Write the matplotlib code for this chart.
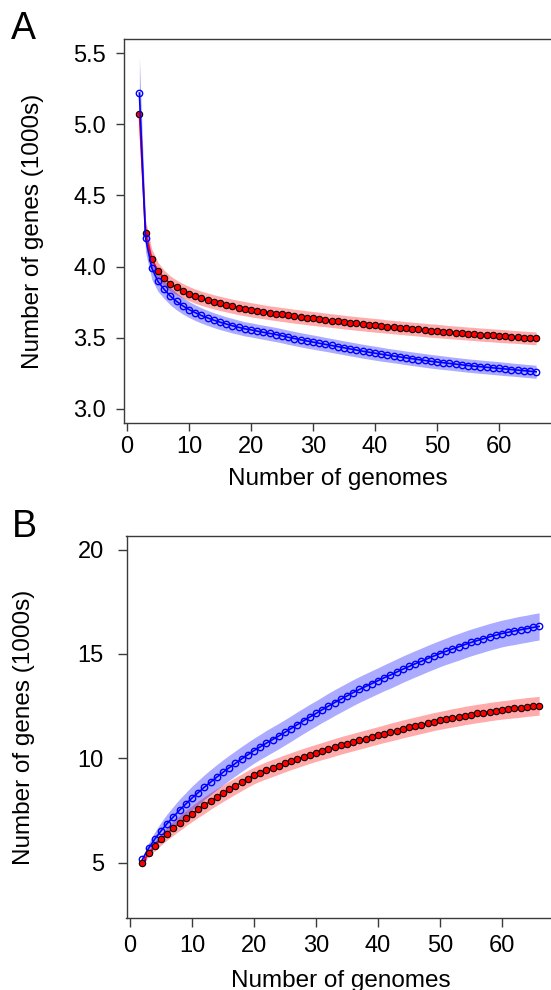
import numpy as np
import matplotlib
matplotlib.use("Agg")
import matplotlib.pyplot as plt

plt.rcParams['font.family'] = ['Liberation Sans', 'DejaVu Sans']

# ---------------- data ----------------
n_genomes = list(range(2, 67))

# Panel A (core genome, thousands of genes)
coreA_red = [5.075, 4.237, 4.052, 3.970, 3.918, 3.880, 3.853, 3.830, 3.810, 3.792,
             3.777, 3.764, 3.752, 3.741, 3.731, 3.721, 3.712, 3.704, 3.696, 3.689,
             3.682, 3.675, 3.669, 3.663, 3.657, 3.651, 3.646, 3.640, 3.635, 3.630,
             3.625, 3.620, 3.615, 3.610, 3.605, 3.600, 3.596, 3.591, 3.587, 3.583,
             3.578, 3.574, 3.570, 3.566, 3.562, 3.558, 3.554, 3.550, 3.547, 3.543,
             3.539, 3.536, 3.532, 3.529, 3.526, 3.522, 3.519, 3.516, 3.513, 3.510,
             3.507, 3.504, 3.501, 3.498, 3.495]
coreA_blue = [5.220, 4.200, 3.990, 3.895, 3.840, 3.792, 3.755, 3.724, 3.698, 3.676,
              3.656, 3.639, 3.623, 3.609, 3.596, 3.584, 3.573, 3.562, 3.555, 3.546,
              3.538, 3.530, 3.522, 3.513, 3.503, 3.494, 3.485, 3.477, 3.469, 3.461,
              3.453, 3.445, 3.437, 3.429, 3.421, 3.413, 3.405, 3.398, 3.391, 3.384,
              3.377, 3.371, 3.365, 3.358, 3.352, 3.346, 3.340, 3.334, 3.329, 3.324,
              3.319, 3.314, 3.309, 3.304, 3.300, 3.296, 3.292, 3.288, 3.284, 3.280,
              3.276, 3.272, 3.268, 3.264, 3.260]
coreA_red_hw = [0.18, 0.09, 0.07, 0.06, 0.056, 0.054, 0.052, 0.051, 0.050, 0.050,
                0.050, 0.050, 0.050, 0.050, 0.050, 0.050, 0.050, 0.050, 0.050, 0.050,
                0.049, 0.049, 0.049, 0.049, 0.049, 0.049, 0.049, 0.049, 0.049, 0.049,
                0.048, 0.048, 0.048, 0.048, 0.048, 0.048, 0.048, 0.048, 0.048, 0.048,
                0.047, 0.047, 0.047, 0.047, 0.047, 0.047, 0.047, 0.047, 0.047, 0.047,
                0.046, 0.046, 0.046, 0.046, 0.046, 0.046, 0.046, 0.046, 0.046, 0.046,
                0.045, 0.045, 0.045, 0.045, 0.045]
coreA_blue_hw = [0.25, 0.10, 0.08, 0.07, 0.065, 0.062, 0.060, 0.058, 0.056, 0.055,
                 0.054, 0.053, 0.052, 0.052, 0.051, 0.051, 0.050, 0.050, 0.050, 0.050,
                 0.050, 0.050, 0.050, 0.050, 0.050, 0.050, 0.050, 0.050, 0.050, 0.050,
                 0.049, 0.049, 0.049, 0.049, 0.049, 0.049, 0.049, 0.049, 0.049, 0.049,
                 0.048, 0.048, 0.048, 0.048, 0.048, 0.048, 0.048, 0.048, 0.048, 0.048,
                 0.047, 0.047, 0.047, 0.047, 0.047, 0.047, 0.047, 0.047, 0.047, 0.047,
                 0.046, 0.046, 0.046, 0.046, 0.046]

# Panel B (pan genome, thousands of genes)
panB_red = [5.00, 5.45, 5.80, 6.12, 6.40, 6.66, 6.90, 7.13, 7.35, 7.56,
            7.76, 7.96, 8.15, 8.33, 8.51, 8.68, 8.85, 9.02, 9.18, 9.31,
            9.43, 9.54, 9.65, 9.76, 9.87, 9.97, 10.07, 10.17, 10.26, 10.35,
            10.44, 10.53, 10.62, 10.70, 10.78, 10.86, 10.94, 11.02, 11.10, 11.18,
            11.26, 11.33, 11.41, 11.48, 11.55, 11.62, 11.69, 11.76, 11.82, 11.88,
            11.94, 11.99, 12.05, 12.10, 12.15, 12.19, 12.24, 12.28, 12.32, 12.35,
            12.39, 12.42, 12.46, 12.49, 12.52]
panB_blue = [5.16, 5.69, 6.13, 6.52, 6.88, 7.20, 7.52, 7.81, 8.10, 8.36,
             8.62, 8.86, 9.10, 9.33, 9.55, 9.76, 9.97, 10.17, 10.37, 10.55,
             10.73, 10.90, 11.07, 11.25, 11.43, 11.62, 11.80, 11.98, 12.15, 12.33,
             12.50, 12.67, 12.83, 12.99, 13.15, 13.30, 13.44, 13.58, 13.72, 13.86,
             13.99, 14.13, 14.27, 14.40, 14.53, 14.65, 14.78, 14.90, 15.02, 15.13,
             15.24, 15.34, 15.45, 15.55, 15.64, 15.73, 15.82, 15.90, 15.98, 16.04,
             16.10, 16.16, 16.21, 16.27, 16.32]
panB_red_hw = [0.08, 0.17, 0.23, 0.28, 0.31, 0.34, 0.36, 0.37, 0.38, 0.39,
               0.40, 0.40, 0.40, 0.40, 0.40, 0.40, 0.40, 0.40, 0.40, 0.40,
               0.41, 0.41, 0.41, 0.41, 0.41, 0.41, 0.41, 0.41, 0.41, 0.41,
               0.42, 0.42, 0.42, 0.42, 0.42, 0.42, 0.42, 0.42, 0.42, 0.42,
               0.43, 0.43, 0.43, 0.43, 0.43, 0.43, 0.43, 0.43, 0.43, 0.43,
               0.44, 0.44, 0.44, 0.44, 0.44, 0.44, 0.44, 0.44, 0.44, 0.44,
               0.45, 0.45, 0.45, 0.45, 0.45]
panB_blue_hw = [0.12, 0.25, 0.34, 0.41, 0.46, 0.50, 0.53, 0.55, 0.57, 0.58,
                0.59, 0.60, 0.60, 0.60, 0.60, 0.60, 0.60, 0.60, 0.60, 0.60,
                0.61, 0.61, 0.61, 0.61, 0.61, 0.61, 0.61, 0.61, 0.61, 0.61,
                0.62, 0.62, 0.62, 0.62, 0.62, 0.62, 0.62, 0.62, 0.62, 0.62,
                0.63, 0.63, 0.63, 0.63, 0.63, 0.63, 0.63, 0.63, 0.63, 0.63,
                0.64, 0.64, 0.64, 0.64, 0.64, 0.64, 0.64, 0.64, 0.64, 0.64,
                0.65, 0.65, 0.65, 0.65, 0.65]

x_ticks = [0, 10, 20, 30, 40, 50, 60]
yA_ticks = [3.0, 3.5, 4.0, 4.5, 5.0, 5.5]
yA_labels = ["3.0", "3.5", "4.0", "4.5", "5.0", "5.5"]
yB_ticks = [5, 10, 15, 20]
yB_labels = ["5", "10", "15", "20"]

xlabel = "Number of genomes"
ylabel = "Number of genes (1000s)"

# ---------------- figure ----------------
W, H = 551, 990
fig = plt.figure(figsize=(W / 100, H / 100), dpi=100)

def px_axes(left, top, right, bottom):
    return fig.add_axes([left / W, 1 - bottom / H, (right - left) / W, (bottom - top) / H])

axA = px_axes(123.5, 39, 552, 423)
axB = px_axes(126.5, 536, 555, 918.3)

RED = "#ff0000"
BLUE = "#0000ff"
SPINE = "#3a3a3a"
TICK_FS = 17
LABEL_FS = 17.5

def draw(ax, yr, yb, hr, hb, order_blue_top):
    x = np.array(n_genomes)
    yr = np.array(yr); yb = np.array(yb); hr = np.array(hr); hb = np.array(hb)
    ax.fill_between(x, yr - hr, yr + hr, color=RED, alpha=0.33, lw=0, zorder=1)
    ax.fill_between(x, yb - hb, yb + hb, color=BLUE, alpha=0.33, lw=0, zorder=1)
    zr, zb = (3, 4) if order_blue_top else (4, 3)
    ax.plot(x, yr, color=RED, lw=1.2, zorder=zr, marker='o', ms=4.6,
            mfc=RED, mec='black', mew=0.8)
    ax.plot(x, yb, color=BLUE, lw=1.2, zorder=zb, marker='o', ms=4.6,
            mfc='none', mec=BLUE, mew=1.0)

draw(axA, coreA_red, coreA_blue, coreA_red_hw, coreA_blue_hw, True)
draw(axB, panB_red, panB_blue, panB_red_hw, panB_blue_hw, False)

for ax in (axA, axB):
    ax.set_xlim(-0.56, 68.56)
    ax.set_xticks(x_ticks)
    ax.spines['right'].set_visible(False)
    for s in ('left', 'top', 'bottom'):
        ax.spines[s].set_color(SPINE)
        ax.spines[s].set_linewidth(1.0)
    ax.tick_params(colors=SPINE, labelcolor='black', labelsize=TICK_FS, width=1.0, direction='out')

axA.set_ylim(2.90, 5.60)
axA.set_yticks(yA_ticks)
axA.set_yticklabels(yA_labels)
axA.tick_params(axis='both', length=5.5)
axA.tick_params(axis='x', pad=4.0)
axA.tick_params(axis='y', pad=7)

axB.set_ylim(2.34, 20.65)
axB.set_yticks(yB_ticks)
axB.set_yticklabels(yB_labels)
axB.tick_params(axis='both', length=6.3)
axB.tick_params(axis='x', pad=6.0)
axB.tick_params(axis='y', pad=10)

axA.set_xlabel(xlabel, fontsize=LABEL_FS, va='top')
axA.xaxis.set_label_coords(0.5, -0.118)
axA.set_ylabel(ylabel, fontsize=LABEL_FS)
axA.yaxis.set_label_coords((44 - 123.5) / 428.5, 0.5)

axB.set_xlabel(xlabel, fontsize=LABEL_FS, va='top')
axB.xaxis.set_label_coords(0.5, -0.135)
axB.set_ylabel(ylabel, fontsize=LABEL_FS)
axB.yaxis.set_label_coords((35 - 126.5) / 428.5, 0.5)

fig.text(11 / W, 1 - 39 / H, "A", fontsize=27, ha='left', va='baseline')
fig.text(12 / W, 1 - 537 / H, "B", fontsize=27, ha='left', va='baseline')

fig.savefig("out.png", dpi=100)
